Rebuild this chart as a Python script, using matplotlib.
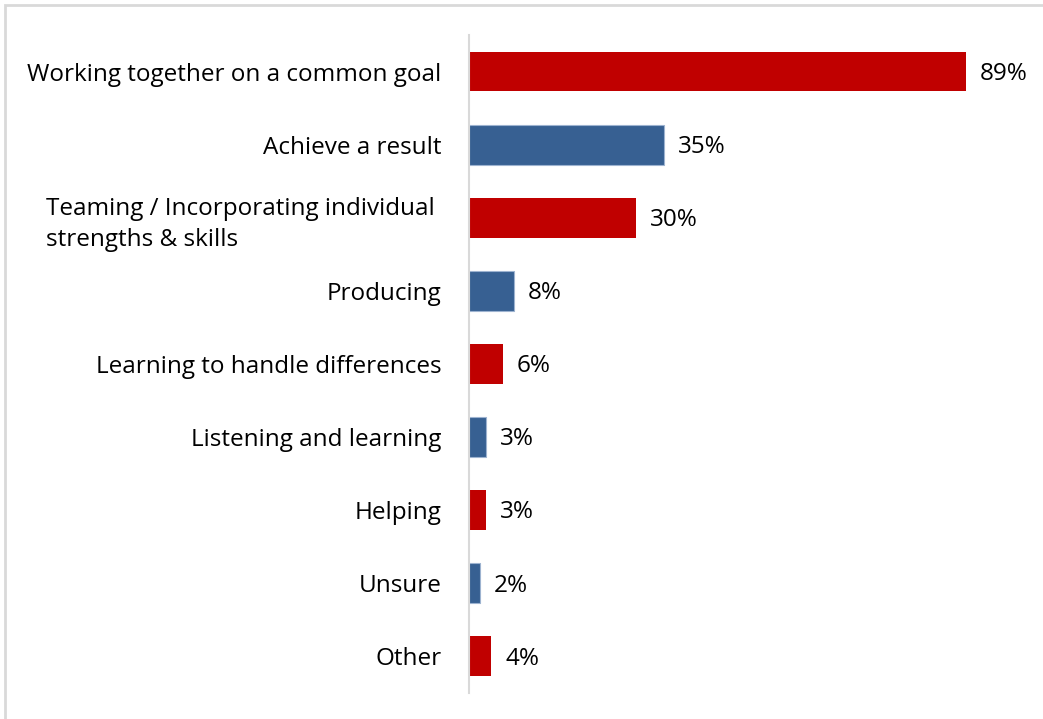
import matplotlib.pyplot as plt
from matplotlib.patches import Rectangle

categories = ["Working together on a common goal", "Achieve a result",
              "Teaming / Incorporating individual \nstrengths & skills",
              "Producing", "Learning to handle differences",
              "Listening and learning", "Helping", "Unsure", "Other"]
values = [89, 35, 30, 8, 6, 3, 3, 2, 4]

red = "#C00000"
blue = "#376092"
colors = [red if i % 2 == 0 else blue for i in range(len(values))]

plt.rcParams['font.family'] = ['Open Sans', 'DejaVu Sans']

fig = plt.figure(figsize=(10.43, 7.19), dpi=100)
ax = fig.add_axes([0.4497, 0.0362, 0.535, 0.9151])

pos = list(range(len(values)))
bars = ax.barh(pos, values, height=0.545, color=colors)
for b, c in zip(bars, colors):
    if c == blue:
        b.set_edgecolor("#9DB3D0")
        b.set_linewidth(0.8)

for p, v in zip(pos, values):
    ax.text(v + 2.5, p + 0.03, f"{v}%", va="center", ha="left", fontsize=17.5)

ax.set_xlim(0, 100)
ax.set_ylim(len(values) - 0.5, -0.5)
ax.set_yticks(pos)
ax.set_yticklabels(categories, fontsize=17.5, linespacing=1.4)
for t in ax.get_yticklabels():
    t.set_multialignment("left")
ax.tick_params(axis="y", length=0, pad=20)
ax.set_xticks([])
for s in ["top", "right", "bottom"]:
    ax.spines[s].set_visible(False)
ax.spines["left"].set_color("#D9D9D9")
ax.spines["left"].set_linewidth(1.5)

# light frame round the whole chart
fig.patches.append(Rectangle((5 / 1043, -0.01), 1.05, 1 - 5 / 719 + 0.01,
                             transform=fig.transFigure, fill=False,
                             edgecolor="#D9D9D9", linewidth=2))

fig.savefig("out.png", dpi=100)
